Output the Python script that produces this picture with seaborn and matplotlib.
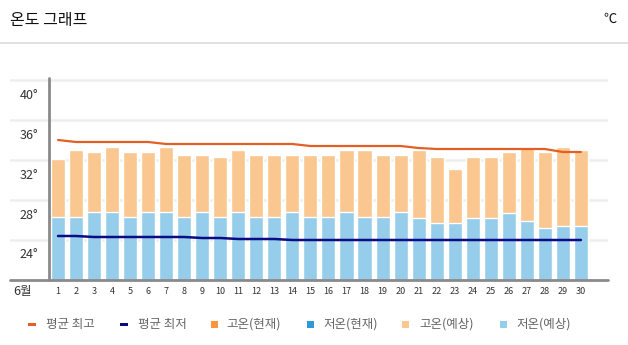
import numpy as np
import pandas as pd
import matplotlib
matplotlib.use("Agg")
import matplotlib.pyplot as plt
from matplotlib.patches import Rectangle
import seaborn as sns

# ---- data ----
days = list(range(1, 31))
high_forecast = [32.1, 33.0, 32.8, 33.3, 32.8, 32.8, 33.3, 32.5, 32.5, 32.3,
                 33.0, 32.5, 32.5, 32.5, 32.5, 32.5, 33.0, 33.0, 32.5, 32.5,
                 33.0, 32.3, 31.1, 32.3, 32.3, 32.8, 33.3, 32.8, 33.3, 33.0]
low_forecast = [26.3, 26.3, 26.8, 26.8, 26.3, 26.8, 26.8, 26.3, 26.8, 26.3,
                26.8, 26.3, 26.3, 26.8, 26.3, 26.3, 26.8, 26.3, 26.3, 26.8,
                26.2, 25.7, 25.7, 26.2, 26.2, 26.7, 25.9, 25.2, 25.4, 25.4]
avg_high = [34.0, 33.8, 33.8, 33.8, 33.8, 33.8, 33.6, 33.6, 33.6, 33.6,
            33.6, 33.6, 33.6, 33.6, 33.4, 33.4, 33.4, 33.4, 33.4, 33.4,
            33.2, 33.1, 33.1, 33.1, 33.1, 33.1, 33.1, 33.1, 32.8, 32.8]
avg_low = [24.4, 24.4, 24.3, 24.3, 24.3, 24.3, 24.3, 24.3, 24.2, 24.2,
           24.1, 24.1, 24.1, 24.0, 24.0, 24.0, 24.0, 24.0, 24.0, 24.0,
           24.0, 24.0, 24.0, 24.0, 24.0, 24.0, 24.0, 24.0, 24.0, 24.0]
y_ticks = [24, 28, 32, 36, 40]
month_label = "6월"
title = "온도 그래프"
unit = "℃"
legend_labels = ["평균 최고", "평균 최저", "고온(현재)", "저온(현재)", "고온(예상)", "저온(예상)"]

# ---- style ----
sns.set_style("white")
plt.rcParams['font.family'] = ['Noto Sans CJK KR', 'DejaVu Sans']

C_HIGH_LINE = "#E35F25"
C_LOW_LINE = "#0B0B85"
C_HIGH_CUR = "#F7963C"
C_LOW_CUR = "#2E9AD5"
C_HIGH_FC = "#F9C78F"
C_LOW_FC = "#96CDEA"
GRID = "#EEEEEE"
AXIS = "#8A8A8A"

W, H = 628, 345
fig = plt.figure(figsize=(W / 100, H / 100), dpi=100)

# axes: x from 10 to 608 px, y from 78 to 280 px
ax = fig.add_axes([10 / W, 1 - 280 / H, 598 / W, 202 / H])
slot = 18.03
xl = -0.5 - 39 / slot
xr = -0.5 + 559 / slot

df = pd.DataFrame({"day": days, "high": high_forecast, "low": low_forecast,
                   "avg_high": avg_high, "avg_low": avg_low})
df["pos"] = np.arange(len(days))

for t in y_ticks:
    ax.axhline(t, color=GRID, lw=1.8, zorder=0)

sns.barplot(data=df, x="day", y="high", color=C_HIGH_FC, width=0.78,
            saturation=1, ax=ax, zorder=2)
sns.barplot(data=df, x="day", y="low", color=C_LOW_FC, width=0.78,
            saturation=1, ax=ax, zorder=3)
sns.lineplot(data=df, x="pos", y="avg_high", color=C_HIGH_LINE, lw=1.6,
             ax=ax, zorder=5)
sns.lineplot(data=df, x="pos", y="avg_low", color=C_LOW_LINE, lw=1.8,
             ax=ax, zorder=5)

ax.set_xlim(xl, xr)
ax.set_ylim(20, 40.2)
for s in ax.spines.values():
    s.set_visible(False)
ax.set_xticks([])
ax.set_yticks([])
ax.set_xlabel("")
ax.set_ylabel("")

ax.axhline(20, color=AXIS, lw=2, zorder=6, clip_on=False)
ax.plot([-0.5, -0.5], [20, 40.2], color=AXIS, lw=2, zorder=6, clip_on=False)

# y labels (placed below their gridlines)
for t in y_ticks:
    ax.text(-0.5 - 11 / slot, t - 1.5, f"{t}°", ha="right", va="center",
            fontsize=9, color="#333333", clip_on=False)

# day labels
for i, d in enumerate(days):
    ax.text(i, 18.8, str(d), ha="center", va="center", fontsize=6.5,
            color="#333333", clip_on=False)
ax.text(-0.5 - 26 / slot, 18.8, month_label, ha="center", va="center",
        fontsize=9, color="#333333", clip_on=False)

# overlay in pixel coordinates for header and legend
ov = fig.add_axes([0, 0, 1, 1], zorder=10)
ov.set_xlim(0, W)
ov.set_ylim(H, 0)
ov.axis("off")
ov.patch.set_alpha(0)

ov.text(10, 21, title, ha="left", va="center", fontsize=11.5, color="#111111")
ov.text(610, 19, unit, ha="center", va="center", fontsize=9.5, color="#111111")
ov.plot([0, W], [43.3, 43.3], color="#DDDDDD", lw=1.3)

ly = 324.5
# line items
ov.add_patch(Rectangle((28, ly - 1.2), 8, 2.4, color=C_HIGH_LINE, lw=0))
ov.add_patch(Rectangle((120, ly - 1.2), 8, 2.4, color=C_LOW_LINE, lw=0))
sq_x = [211, 307, 402, 500]
sq_c = [C_HIGH_CUR, C_LOW_CUR, C_HIGH_FC, C_LOW_FC]
for x0, c in zip(sq_x, sq_c):
    ov.add_patch(Rectangle((x0, ly - 3.5), 7, 7, color=c, lw=0))
text_x = [46, 138, 226, 323, 419, 516]
for tx, lab in zip(text_x, legend_labels):
    ov.text(tx, ly, lab, ha="left", va="center", fontsize=9, color="#666666")

fig.savefig("out.png", dpi=100)
